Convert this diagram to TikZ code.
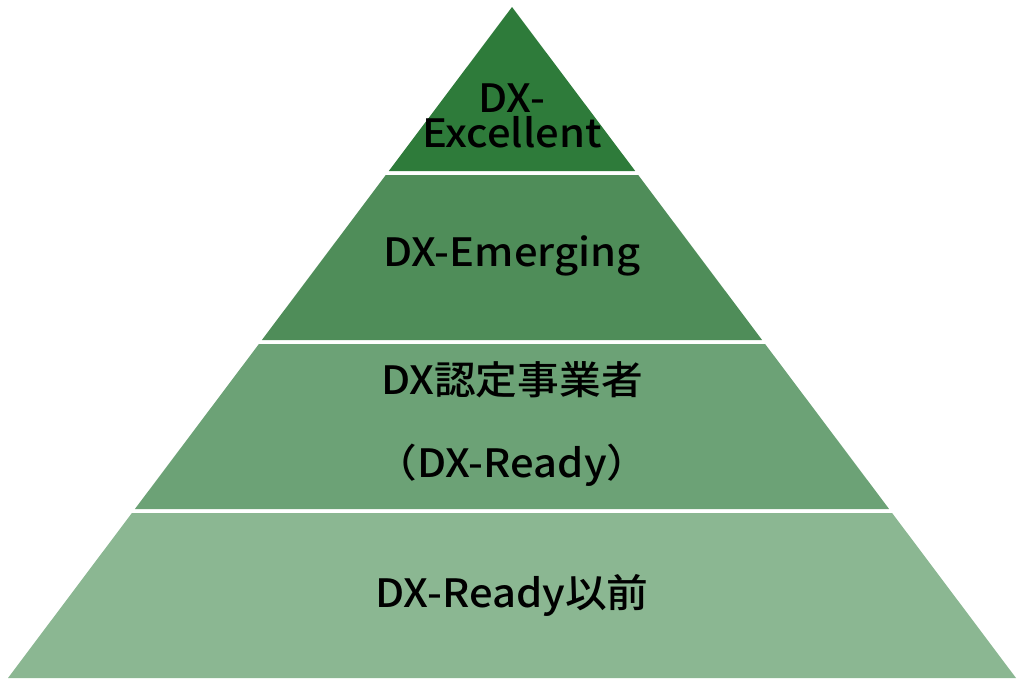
\documentclass[tikz,border=0pt]{standalone}
\usepackage{fontspec}
\setmainfont{Noto Sans CJK JP}[BoldFont={Noto Sans CJK JP Medium}]
\definecolor{gA}{RGB}{46,123,58}
\definecolor{gB}{RGB}{79,141,89}
\definecolor{gC}{RGB}{108,162,118}
\definecolor{gD}{RGB}{139,183,146}
\tikzset{
  lbl/.style={anchor=base, inner sep=0pt, text=black, xscale=1.07, font=\fontsize{39}{39}\selectfont\bfseries},
}
\begin{document}
\begin{tikzpicture}[x=1pt,y=-1pt]
\useasboundingbox (0,0) rectangle (1024,683);
% layers
\fill[gA] (512,7) -- (635.2,171) -- (388.8,171) -- cycle;
\fill[gB] (385.8,175) -- (638.2,175) -- (762.1,340) -- (261.9,340) -- cycle;
\fill[gC] (258.9,344) -- (765.1,344) -- (889.1,509) -- (134.9,509) -- cycle;
\fill[gD] (131.9,513) -- (892.1,513) -- (1016,678) -- (8,678) -- cycle;
% labels
\node[lbl, align=center, anchor=south, text depth=0pt, font=\fontsize{39}{35}\selectfont\bfseries] (ex) at (512,148) {DX-\\Excellent};
\node[lbl] (em) at (512,266) {DX-Emerging};
\node[lbl] (r1) at (512,394) {DX認定事業者};
\node[lbl] (r2) at (512,477) {（DX-Ready）};
\node[lbl] (pre) at (512,607) {DX-Ready以前};
\end{tikzpicture}
\end{document}
